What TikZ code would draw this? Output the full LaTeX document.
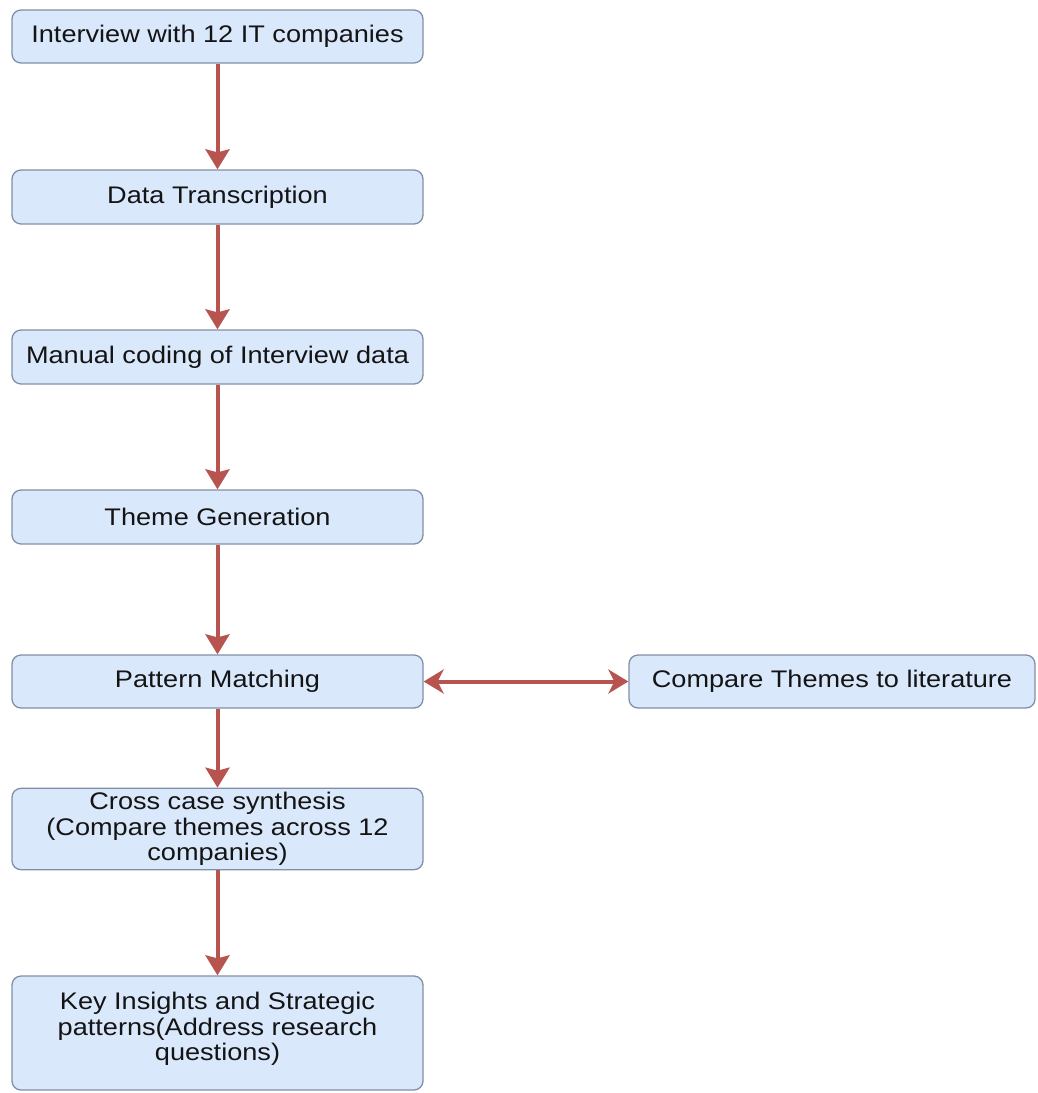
\documentclass[tikz,border=0pt]{standalone}
\usepackage{fontspec}
\setmainfont{Liberation Sans}[FakeStretch=1.13]
\usetikzlibrary{arrows.meta}
\definecolor{boxfill}{HTML}{DAE8FC}
\definecolor{boxline}{HTML}{7F8FA6}
\definecolor{flow}{HTML}{B85450}
\definecolor{ink}{HTML}{141414}
\begin{document}
\begin{tikzpicture}[x=1pt,y=-1pt,
  stepbox/.style={draw=boxline, fill=boxfill, line width=1.3pt, rounded corners=9pt,
    minimum width=411pt, minimum height=53pt, align=center, text=ink,
    font=\fontsize{24}{25.5}\selectfont, inner sep=4pt},
  flowline/.style={draw=flow, line width=4pt,
    -{Stealth[length=20pt,width=24pt,inset=3pt]}},
  bothways/.style={draw=flow, line width=4pt,
    {Stealth[length=20pt,width=24pt,inset=6pt]}-{Stealth[length=20pt,width=24pt,inset=6pt]}}]
\useasboundingbox (0,0) rectangle (1037,1093);

\node[stepbox] (interview) at (217.5,36.5) {Interview with 12 IT companies};
\node[stepbox, minimum height=54pt] (transcribe) at (217.5,197) {Data Transcription};
\node[stepbox, minimum height=54pt] (coding) at (217.5,357) {Manual coding of Interview data};
\node[stepbox, minimum height=54pt] (themes) at (217.5,517) {Theme Generation};
\node[stepbox] (pattern) at (217.5,681.5) {Pattern Matching};
\node[stepbox, minimum width=406pt] (literature) at (832,681.5) {Compare Themes to literature};
\node[stepbox, minimum height=81pt] (synthesis) at (217.5,829)
  {Cross case synthesis\\(Compare themes across 12\\companies)};
\node[stepbox, minimum height=114pt] (insights) at (217.5,1033)
  {Key Insights and Strategic\\patterns(Address research\\questions)\\[-13pt]};

\draw[flowline] (interview) -- (transcribe);
\draw[flowline] (transcribe) -- (coding);
\draw[flowline] (coding) -- (themes);
\draw[flowline] (themes) -- (pattern);
\draw[flowline] (pattern) -- (synthesis);
\draw[flowline] (synthesis) -- (insights);
\draw[bothways] (pattern) -- (literature);
\end{tikzpicture}
\end{document}
